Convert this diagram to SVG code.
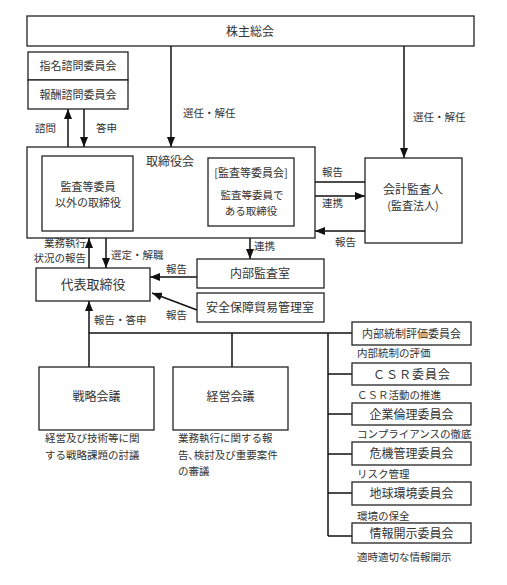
<svg xmlns="http://www.w3.org/2000/svg" width="507" height="585" viewBox="0 0 507 585">
<style>
.box{fill:#fff;stroke:#222;stroke-width:1.3}
.ln{fill:none;stroke:#111;stroke-width:1.5}
.ah{marker-end:url(#arr)}
.dbl{marker-start:url(#arr);marker-end:url(#arr)}
text{font-family:"Noto Sans CJK JP","Noto Sans",sans-serif;fill:#333}
.t12{font-size:12px;text-anchor:middle}
.t11{font-size:11px;text-anchor:middle}
.lb{font-size:10.5px}
.ds{font-size:10.5px}
</style>
<defs>
<marker id="arr" viewBox="0 0 10 8" refX="10" refY="4" markerWidth="10" markerHeight="8" markerUnits="userSpaceOnUse" orient="auto-start-reverse">
<path d="M0,0 L10,4 L0,8 z" fill="#111"/>
</marker>
</defs>
<rect width="507" height="585" fill="#fff"/>

<g id="connectors">
<line class="ln ah" x1="68" y1="147" x2="68" y2="109"/>
<line class="ln ah" x1="84" y1="109" x2="84" y2="147"/>
<line class="ln ah" x1="171" y1="46" x2="171" y2="147"/>
<line class="ln ah" x1="404" y1="46" x2="404" y2="158"/>
<line class="ln ah" x1="208" y1="209" x2="133" y2="209"/>
<line class="ln ah" x1="365" y1="182" x2="294" y2="182"/>
<line class="ln dbl" x1="294" y1="196" x2="365" y2="196"/>
<line class="ln ah" x1="365" y1="231" x2="315" y2="231"/>
<line class="ln dbl" x1="250" y1="226" x2="250" y2="259"/>
<line class="ln ah" x1="89" y1="268" x2="89" y2="238"/>
<line class="ln ah" x1="106" y1="238" x2="106" y2="268"/>
<line class="ln ah" x1="197" y1="277" x2="150" y2="277"/>
<line class="ln ah" x1="197" y1="310" x2="152" y2="293"/>
<line class="ln ah" x1="89" y1="367" x2="89" y2="301"/>
<line class="ln" x1="89" y1="333" x2="352" y2="333"/>
<line class="ln" x1="232" y1="333" x2="232" y2="367"/>
<line class="ln" x1="328" y1="333" x2="328" y2="536"/>
<line class="ln" x1="328" y1="374" x2="352" y2="374"/>
<line class="ln" x1="328" y1="414" x2="352" y2="414"/>
<line class="ln" x1="328" y1="454" x2="352" y2="454"/>
<line class="ln" x1="328" y1="493" x2="352" y2="493"/>
<line class="ln" x1="328" y1="536" x2="352" y2="536"/>
<text class="lb" x="35" y="132">諮問</text>
<text class="lb" x="96" y="132">答申</text>
<text class="lb" x="183" y="117">選任・解任</text>
<text class="lb" x="413" y="121">選任・解任</text>
<text class="lb" x="161" y="206">監査</text>
<text class="lb" x="322" y="176">報告</text>
<text class="lb" x="322" y="207">連携</text>
<text class="lb" x="335" y="246">報告</text>
<text class="lb" x="254" y="250">連携</text>
<text class="lb" x="86" y="247" text-anchor="end">業務執行</text>
<text class="lb" x="86" y="262" text-anchor="end">状況の報告</text>
<text class="lb" x="111" y="259">選定・解職</text>
<text class="lb" x="166" y="273">報告</text>
<text class="lb" x="166" y="319">報告</text>
<text class="lb" x="94" y="324">報告・答申</text>
</g>

<g id="shareholders">
<rect class="box" x="27" y="16" width="447" height="30"/>
<text class="t12" x="250" y="36">株主総会</text>
</g>
<g id="nomination">
<rect class="box" x="28" y="52" width="100" height="28"/>
<text class="t11" x="78" y="70">指名諮問委員会</text>
</g>
<g id="compensation">
<rect class="box" x="28" y="80" width="100" height="29"/>
<text class="t11" x="78" y="99">報酬諮問委員会</text>
</g>
<g id="board">
<rect class="box" x="27" y="147" width="288" height="91"/>
<text class="t12" x="170" y="166">取締役会</text>
</g>
<g id="directors">
<rect class="box" x="42" y="156" width="91" height="75"/>
<text class="t11" x="88" y="191">監査等委員</text>
<text class="t11" x="88" y="207">以外の取締役</text>
</g>
<g id="audit-committee">
<rect class="box" x="208" y="158" width="86" height="68"/>
<text class="t11" x="251" y="177">[監査等委員会]</text>
<text class="t11" x="252" y="199" style="font-size:10.5px">監査等委員で</text>
<text class="t11" x="251" y="215" style="font-size:10.5px">ある取締役</text>
</g>
<g id="auditor">
<rect class="box" x="365" y="158" width="97" height="85"/>
<text class="t12" x="413" y="194">会計監査人</text>
<text class="t11" x="413" y="210">(監査法人)</text>
</g>
<g id="internal-audit">
<rect class="box" x="197" y="259" width="127" height="29"/>
<text class="t12" x="260" y="278">内部監査室</text>
</g>
<g id="security-trade">
<rect class="box" x="197" y="293" width="127" height="29"/>
<text class="t12" x="260" y="312">安全保障貿易管理室</text>
</g>
<g id="representative">
<rect class="box" x="36" y="268" width="114" height="33"/>
<text class="t12" x="93" y="289" style="font-size:13px">代表取締役</text>
</g>
<g id="strategy">
<rect class="box" x="39" y="367" width="115" height="63"/>
<text class="t12" x="96.5" y="401">戦略会議</text>
<text class="ds" x="45" y="442">経営及び技術等に関</text>
<text class="ds" x="45" y="459">する戦略課題の討議</text>
</g>
<g id="management">
<rect class="box" x="173" y="367" width="115" height="63"/>
<text class="t12" x="230.5" y="401">経営会議</text>
<text class="ds" x="178" y="442">業務執行に関する報</text>
<text class="ds" x="178" y="459">告､検討及び重要案件</text>
<text class="ds" x="178" y="475">の審議</text>
</g>
<g id="internal-control">
<rect class="box" x="352" y="322" width="119" height="23"/>
<text class="t11" x="411.5" y="338">内部統制評価委員会</text>
<text class="ds" x="357" y="357">内部統制の評価</text>
</g>
<g id="csr">
<rect class="box" x="352" y="363" width="119" height="22"/>
<text class="t12" x="412" y="379" letter-spacing="1">ＣＳＲ委員会</text>
<text class="ds" x="357" y="399">ＣＳＲ活動の推進</text>
</g>
<g id="ethics">
<rect class="box" x="352" y="403" width="119" height="22"/>
<text class="t12" x="411.5" y="419">企業倫理委員会</text>
<text class="ds" x="357" y="438">コンプライアンスの徹底</text>
</g>
<g id="crisis">
<rect class="box" x="352" y="442" width="119" height="23"/>
<text class="t12" x="411.5" y="458">危機管理委員会</text>
<text class="ds" x="357" y="478">リスク管理</text>
</g>
<g id="environment">
<rect class="box" x="352" y="482" width="119" height="23"/>
<text class="t12" x="411.5" y="498">地球環境委員会</text>
<text class="ds" x="357" y="520">環境の保全</text>
</g>
<g id="disclosure">
<rect class="box" x="352" y="523" width="119" height="20"/>
<text class="t12" x="411.5" y="538">情報開示委員会</text>
<text class="ds" x="357" y="561">適時適切な情報開示</text>
</g>
</svg>
